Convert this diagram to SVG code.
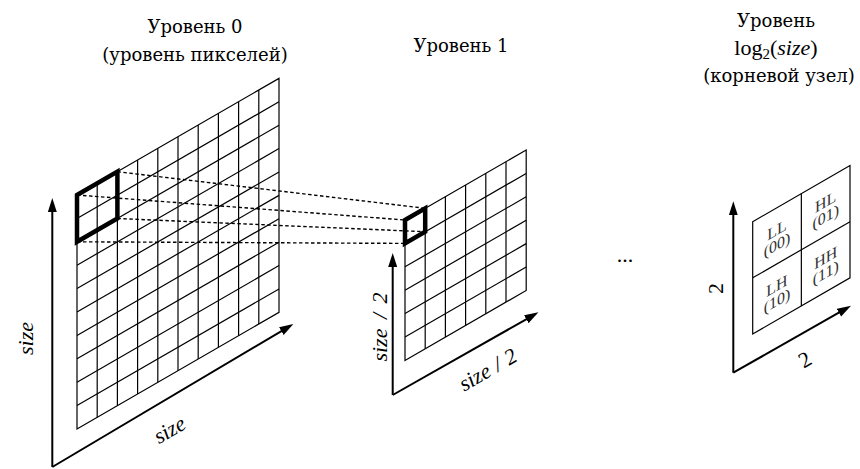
<svg xmlns="http://www.w3.org/2000/svg" width="860" height="469" viewBox="0 0 860 469">
<defs>
<marker id="ah" markerUnits="userSpaceOnUse" markerWidth="15" markerHeight="10" refX="6" refY="4.5" orient="auto">
<path d="M0,0 L14,4.5 L0,9 z" fill="#000"/>
</marker>
</defs>
<style>
text{font-family:"Liberation Serif","Times New Roman",serif;fill:#000}
.t{font-family:"DejaVu Serif",serif;font-size:18px;text-anchor:middle}
.tl{font-size:22px;text-anchor:middle}
.ax{font-size:22px;font-style:italic;text-anchor:middle}
.axn{font-size:22px;text-anchor:middle}
.cl{font-size:16px;text-anchor:middle;fill:#333}
.g{fill:none;stroke:#000;stroke-width:1.2}
.g line,.g rect{vector-effect:non-scaling-stroke}
.thick{fill:none;stroke:#000;stroke-width:4.5;vector-effect:non-scaling-stroke}
.axis{stroke:#000;stroke-width:2;fill:none;marker-end:url(#ah)}
.dash{stroke:#000;stroke-width:1.4;stroke-dasharray:3.5 2.5;fill:none}
</style>
<rect width="860" height="469" fill="#fff"/>

<g id="level0">
<text class="t" x="195" y="33">Уровень 0</text>
<text class="t" x="195" y="61">(уровень пикселей)</text>
<g class="g" transform="translate(77,195) skewY(-30)">
<rect x="0" y="0" width="202" height="234"/>
<line x1="20.2" y1="0" x2="20.2" y2="234"/><line x1="40.4" y1="0" x2="40.4" y2="234"/><line x1="60.6" y1="0" x2="60.6" y2="234"/><line x1="80.8" y1="0" x2="80.8" y2="234"/><line x1="101" y1="0" x2="101" y2="234"/><line x1="121.2" y1="0" x2="121.2" y2="234"/><line x1="141.4" y1="0" x2="141.4" y2="234"/><line x1="161.6" y1="0" x2="161.6" y2="234"/><line x1="181.8" y1="0" x2="181.8" y2="234"/>
<line x1="0" y1="23.4" x2="202" y2="23.4"/><line x1="0" y1="46.8" x2="202" y2="46.8"/><line x1="0" y1="70.2" x2="202" y2="70.2"/><line x1="0" y1="93.6" x2="202" y2="93.6"/><line x1="0" y1="117" x2="202" y2="117"/><line x1="0" y1="140.4" x2="202" y2="140.4"/><line x1="0" y1="163.8" x2="202" y2="163.8"/><line x1="0" y1="187.2" x2="202" y2="187.2"/><line x1="0" y1="210.6" x2="202" y2="210.6"/>
<rect class="thick" x="0" y="0" width="40.4" height="46.8"/>
</g>
<line class="axis" x1="52.3" y1="467" x2="52.3" y2="206"/>
<line class="axis" x1="52.3" y1="467" x2="286.5" y2="328.1"/>
<text class="ax" transform="translate(33,338.5) rotate(-90)">size</text>
<text class="ax" transform="translate(170.7,431.7) rotate(-30)" y="5">size</text>
</g>

<g id="level1">
<text class="t" x="461" y="52">Уровень 1</text>
<g class="g" transform="translate(405,220) skewY(-30)">
<rect x="0" y="0" width="121.2" height="140.4"/>
<line x1="20.2" y1="0" x2="20.2" y2="140.4"/><line x1="40.4" y1="0" x2="40.4" y2="140.4"/><line x1="60.6" y1="0" x2="60.6" y2="140.4"/><line x1="80.8" y1="0" x2="80.8" y2="140.4"/><line x1="101" y1="0" x2="101" y2="140.4"/>
<line x1="0" y1="23.4" x2="121.2" y2="23.4"/><line x1="0" y1="46.8" x2="121.2" y2="46.8"/><line x1="0" y1="70.2" x2="121.2" y2="70.2"/><line x1="0" y1="93.6" x2="121.2" y2="93.6"/><line x1="0" y1="117" x2="121.2" y2="117"/>
<rect class="thick" x="0" y="0" width="20.2" height="23.4"/>
</g>
<line class="axis" x1="392.7" y1="395" x2="392.7" y2="261"/>
<line class="axis" x1="392.7" y1="395" x2="531.5" y2="316.3"/>
<text class="ax" transform="translate(387,327) rotate(-90)" word-spacing="4">size / 2</text>
<text class="ax" transform="translate(489,371.7) rotate(-30)" y="5" word-spacing="1">size / 2</text>
</g>

<g id="dots">
<text class="tl" x="625" y="262">...</text>
</g>

<g id="root">
<text class="t" x="776" y="27">Уровень</text>
<text class="tl" x="776" y="55">log<tspan font-size="15" dy="4">2</tspan><tspan dy="-4">(</tspan><tspan font-style="italic">size</tspan>)</text>
<text class="t" x="779" y="82">(корневой узел)</text>
<g class="g" transform="translate(752.7,221.7) skewY(-30)">
<rect x="0" y="0" width="97.3" height="112.3"/>
<line x1="48.65" y1="0" x2="48.65" y2="112.3"/>
<line x1="0" y1="56.15" x2="97.3" y2="56.15"/>
</g>
<g transform="translate(777,237) skewY(-30)"><text class="cl" y="-2">LL</text><text class="cl" y="13">(00)</text></g>
<g transform="translate(825.7,209) skewY(-30)"><text class="cl" y="-2">HL</text><text class="cl" y="13">(01)</text></g>
<g transform="translate(777,293) skewY(-30)"><text class="cl" y="-2">LH</text><text class="cl" y="13">(10)</text></g>
<g transform="translate(825.7,265) skewY(-30)"><text class="cl" y="-2">HH</text><text class="cl" y="13">(11)</text></g>
<line class="axis" x1="733.3" y1="372.7" x2="733.3" y2="209.3"/>
<line class="axis" x1="733.3" y1="372.7" x2="844.1" y2="309.7"/>
<text class="axn" transform="translate(723,288.5) rotate(-90)">2</text>
<text class="axn" transform="translate(805,360) rotate(-30)" y="7">2</text>
</g>

<g id="connectors">
<line class="dash" x1="77" y1="195" x2="405" y2="220"/>
<line class="dash" x1="117.4" y1="171.7" x2="425.2" y2="208.3"/>
<line class="dash" x1="77" y1="241.8" x2="405" y2="243.4"/>
<line class="dash" x1="117.4" y1="218.5" x2="425.2" y2="231.7"/>
</g>
</svg>
